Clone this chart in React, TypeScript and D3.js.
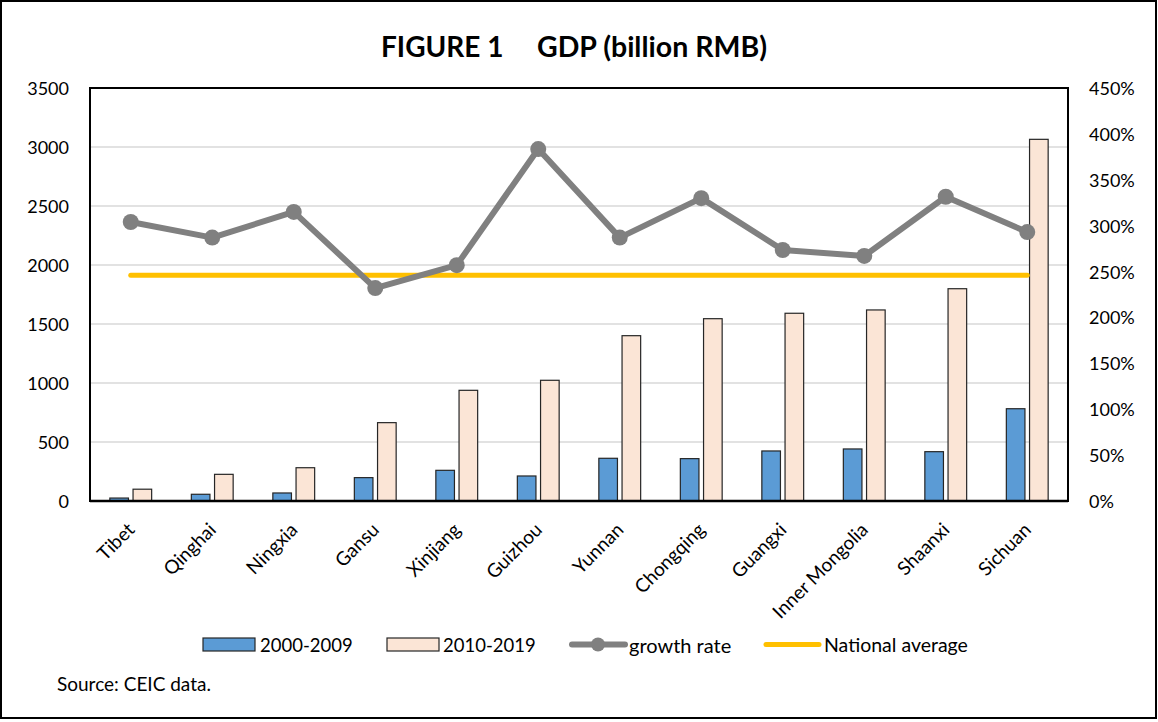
import React from 'react';
import * as d3 from 'd3';

const categories = ['Tibet', 'Qinghai', 'Ningxia', 'Gansu', 'Xinjiang', 'Guizhou', 'Yunnan', 'Chongqing', 'Guangxi', 'Inner Mongolia', 'Shaanxi', 'Sichuan'];
const gdp2000s = [25, 57, 68, 198, 260, 212, 362, 359, 424, 441, 418, 782];
const gdp2010s = [100, 226, 282, 664, 938, 1023, 1401, 1545, 1591, 1619, 1799, 3065];
const growthRate = [304, 287, 315, 232, 257, 383.5, 287, 330, 273.5, 267, 331.5, 293];
const nationalAverage = [246, 246, 246, 246, 246, 246, 246, 246, 246, 246, 246, 246];
const leftTicks = [0, 500, 1000, 1500, 2000, 2500, 3000, 3500];
const rightTicks = [0, 50, 100, 150, 200, 250, 300, 350, 400, 450];
const seriesNames = ['2000-2009', '2010-2019'];

const W = 1158;
const H = 722;
const L = 90, R = 1068, T = 88, B = 501;
const FONT = 'Lato, "Open Sans", sans-serif';

export default function App() {
  const x0 = d3.scaleBand<string>().domain(categories).range([L, R]).paddingInner(0.487).paddingOuter(0.2435);
  const x1 = d3.scaleBand<string>().domain(seriesNames).range([0, x0.bandwidth()]).paddingInner(0.198);
  const yL = d3.scaleLinear().domain([0, 3500]).range([B, T]);
  const yR = d3.scaleLinear().domain([0, 450]).range([B, T]);
  const cx = (c: string) => (x0(c) as number) + x0.bandwidth() / 2;

  const lineGen = d3.line<number>().x((_, i) => cx(categories[i])).y(v => yR(v));

  const colors = ['#5b9bd5', '#fbe5d6'];
  const seriesData = [gdp2000s, gdp2010s];

  return (
    <svg width={W} height={H} style={{ position: 'absolute', left: 0, top: 0, background: '#fff' }} fontFamily={FONT}>
      <rect x={0} y={0} width={W} height={H} fill="#fff" />
      <rect x={1} y={1} width={1155} height={717} fill="none" stroke="#000" strokeWidth={2} />

      <text x={381} y={57} fontSize={28} fontWeight="bold" fill="#000">FIGURE 1</text>
      <text x={537} y={57} fontSize={28.5} fontWeight="bold" fill="#000">GDP (billion RMB)</text>

      {leftTicks.slice(1).map(t => (
        <line key={'g' + t} x1={L} x2={R} y1={yL(t)} y2={yL(t)} stroke="#d9d9d9" strokeWidth={1.5} />
      ))}

      {seriesData.map((vals, si) =>
        vals.map((v, i) => (
          <rect key={si + '-' + i}
            x={(x0(categories[i]) as number) + (x1(seriesNames[si]) as number)}
            y={yL(v)}
            width={x1.bandwidth()}
            height={B - yL(v)}
            fill={colors[si]} stroke="#262626" strokeWidth={1.2} />
        ))
      )}

      <rect x={L} y={T} width={R - L} height={B - T} fill="none" stroke="#000" strokeWidth={2} />
      <line x1={L} x2={R} y1={B} y2={B} stroke="#000" strokeWidth={2.5} />

      <path d={lineGen(nationalAverage) || ''} fill="none" stroke="#ffc000" strokeWidth={5} strokeLinecap="round" />
      <path d={lineGen(growthRate) || ''} fill="none" stroke="#808080" strokeWidth={6} strokeLinejoin="round" />
      {growthRate.map((v, i) => (
        <circle key={'m' + i} cx={cx(categories[i])} cy={yR(v)} r={8} fill="#808080" />
      ))}

      {leftTicks.map(t => (
        <text key={'l' + t} x={69} y={yL(t)} textAnchor="end" dominantBaseline="central" fontSize={18} fill="#000">{t}</text>
      ))}
      {rightTicks.map(t => (
        <text key={'r' + t} x={1089} y={yR(t)} textAnchor="start" dominantBaseline="central" fontSize={18} fill="#000">{t + '%'}</text>
      ))}

      {categories.map(c => (
        <text key={'c' + c} transform={`translate(${cx(c) + 5},${531}) rotate(-45)`} textAnchor="end" fontSize={19} fill="#000">{c}</text>
      ))}

      <g fontSize={19} fill="#000">
        <rect x={203} y={638} width={52} height={13} fill={colors[0]} stroke="#262626" strokeWidth={1.2} />
        <text x={260} y={644.5} dominantBaseline="central" fontSize={18.5}>2000-2009</text>
        <rect x={387} y={638} width={52} height={13} fill={colors[1]} stroke="#262626" strokeWidth={1.2} />
        <text x={443} y={644.5} dominantBaseline="central" fontSize={18.5}>2010-2019</text>
        <line x1={572} x2={625} y1={644.5} y2={644.5} stroke="#808080" strokeWidth={6} strokeLinecap="round" />
        <circle cx={598} cy={644.5} r={7} fill="#808080" />
        <text x={629} y={644.5} dominantBaseline="central" fontSize={20}>growth rate</text>
        <line x1={766} x2={819} y1={644.5} y2={644.5} stroke="#ffc000" strokeWidth={5} strokeLinecap="round" />
        <text x={824} y={644.5} dominantBaseline="central" fontSize={19.5}>National average</text>
      </g>

      <text x={57} y={683} dominantBaseline="central" fontSize={19} fill="#000">Source: CEIC data.</text>
    </svg>
  );
}
